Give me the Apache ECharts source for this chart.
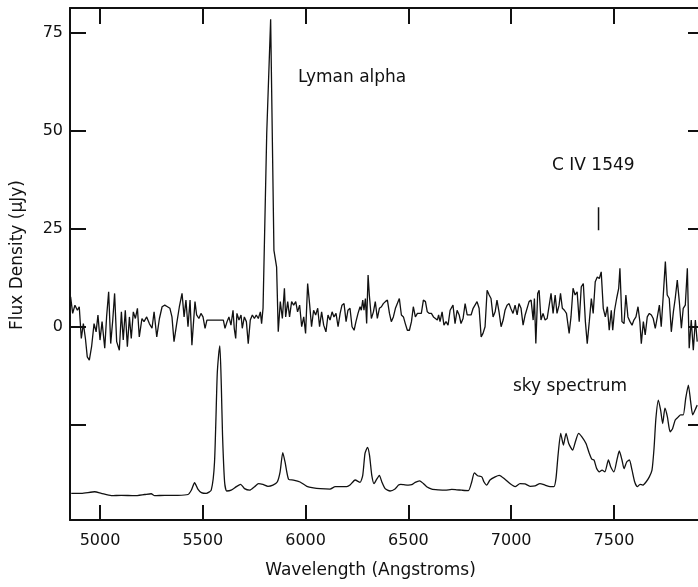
<!DOCTYPE html>
<html>
<head>
<meta charset="utf-8">
<title>Spectrum</title>
<script src="https://cdn.jsdelivr.net/npm/echarts@6/dist/echarts.min.js"></script>
<style>
  html, body { margin: 0; padding: 0; background: #fff; }
  #chart { width: 698px; height: 587px; }
</style>
</head>
<body>
<div id="chart"></div>
<script>
// object spectrum: [wavelength (A), flux density (uJy)]
const objectSpectrum = [
  [4857,7.7],[4867,3.5],[4878,5.6],[4890,4.3],[4899,5.2],[4909,-2.9],[4919,0.9],[4929,-2.9],[4938,-7.6],[4948,-8.4],
  [4959,-5.0],[4971,0.9],[4981,-1.2],[4990,3.1],[5000,-3.3],[5010,1.4],[5023,-5.4],[5032,2.6],[5042,9.0],[5052,-4.2],
  [5062,1.8],[5071,8.6],[5081,-3.7],[5094,-5.9],[5104,3.9],[5113,-3.3],[5123,4.3],[5133,-5.0],[5143,2.6],[5152,-2.9],
  [5162,3.9],[5172,2.2],[5182,4.8],[5191,-2.5],[5204,2.2],[5214,1.4],[5227,2.6],[5240,0.9],[5253,-0.3],[5263,3.9],
  [5276,-2.5],[5289,2.2],[5302,5.2],[5315,5.6],[5328,5.2],[5340,4.8],[5350,2.6],[5360,-3.7],[5373,0.9],[5386,5.2],
  [5399,8.6],[5409,2.6],[5418,6.9],[5428,0.1],[5438,6.9],[5447,-4.6],[5462,6.5],[5470,3.1],[5481,2.2],[5491,3.5],
  [5501,2.6],[5511,-0.3],[5520,1.8],[5600,1.8],[5608,-0.3],[5618,1.4],[5627,2.6],[5637,0.5],[5647,4.3],[5653,-0.3],
  [5660,-2.9],[5666,3.5],[5676,1.8],[5686,3.1],[5692,-0.3],[5702,2.6],[5712,1.4],[5721,-4.2],[5731,1.8],[5741,3.1],
  [5751,2.2],[5760,3.1],[5770,2.2],[5780,3.9],[5786,0.9],[5793,4.8],[5811,49.5],[5830,78.5],[5846,19.6],[5859,15.3],
  [5867,-1.2],[5877,6.5],[5887,2.2],[5897,9.9],[5903,2.6],[5913,6.5],[5922,2.6],[5932,6.5],[5942,5.6],[5952,6.5],
  [5961,3.9],[5971,5.6],[5981,0.1],[5991,2.6],[6000,-1.6],[6010,11.1],[6020,5.6],[6029,0.1],[6039,4.3],[6049,3.1],
  [6059,4.8],[6068,0.1],[6078,3.9],[6088,0.5],[6099,-1.2],[6109,3.1],[6119,1.8],[6129,3.9],[6138,2.6],[6148,3.5],
  [6158,0.1],[6168,3.5],[6177,5.6],[6187,6.0],[6197,1.4],[6206,4.3],[6216,4.8],[6226,0.1],[6236,-0.8],[6245,1.4],
  [6255,3.5],[6265,5.2],[6271,4.3],[6278,6.9],[6284,4.3],[6291,7.3],[6297,0.9],[6304,13.3],[6310,8.2],[6320,2.2],
  [6330,3.9],[6339,6.5],[6349,2.2],[6359,4.8],[6369,5.2],[6378,6.0],[6388,6.5],[6398,6.9],[6408,3.5],[6417,1.4],
  [6427,2.6],[6437,4.8],[6446,4.8],[6456,7.3],[6466,3.1],[6476,2.6],[6485,0.9],[6495,-0.8],[6505,-0.8],[6515,1.4],
  [6524,5.2],[6534,2.6],[6544,3.5],[6553,3.1],[6563,3.5],[6573,6.9],[6583,6.5],[6592,3.9],[6602,3.5],[6612,3.5],
  [6622,2.6],[6631,3.1],[6641,1.8],[6647,3.1],[6654,1.4],[6664,3.9],[6673,0.5],[6683,1.4],[6693,0.5],[6703,4.3],
  [6717,5.6],[6727,0.9],[6737,4.3],[6747,3.1],[6756,0.9],[6766,2.2],[6776,6.0],[6786,3.1],[6795,3.1],[6805,3.1],
  [6815,4.8],[6824,5.6],[6834,6.5],[6844,4.8],[6854,-2.5],[6863,-1.6],[6873,0.1],[6883,9.4],[6893,8.2],[6902,7.3],
  [6912,2.6],[6922,3.9],[6931,6.9],[6941,3.9],[6951,0.1],[6961,1.8],[6970,4.3],[6980,5.6],[6990,6.0],[6998,4.8],
  [7009,3.5],[7019,5.6],[7029,3.1],[7038,6.0],[7048,4.8],[7058,0.5],[7068,3.1],[7077,3.5],[7087,6.5],[7097,6.9],
  [7107,1.8],[7113,7.3],[7120,-4.2],[7129,8.6],[7136,9.4],[7145,1.8],[7155,3.5],[7165,1.8],[7175,2.2],[7184,1.8],
  [7194,8.6],[7204,3.5],[7214,8.2],[7223,3.5],[7233,5.6],[7240,8.6],[7249,4.8],[7259,4.3],[7269,3.5],[7282,-1.6],
  [7291,2.6],[7301,9.9],[7311,8.2],[7321,9.0],[7331,1.4],[7341,10.3],[7351,11.1],[7361,1.4],[7370,-4.2],[7380,1.4],
  [7390,7.3],[7399,3.5],[7409,11.6],[7419,12.8],[7429,12.4],[7438,14.1],[7448,4.8],[7458,2.6],[7468,5.2],[7477,-0.8],
  [7487,4.3],[7494,-0.8],[7503,4.3],[7513,7.3],[7523,9.9],[7529,15.0],[7539,1.4],[7549,0.9],[7558,8.2],[7568,2.6],
  [7578,1.4],[7588,0.5],[7597,1.8],[7607,2.6],[7617,5.2],[7626,1.4],[7633,-4.2],[7643,1.4],[7652,-2.0],[7662,2.6],
  [7672,3.5],[7682,3.1],[7691,2.2],[7701,-0.3],[7711,2.6],[7721,5.6],[7730,0.1],[7740,8.2],[7750,16.7],[7759,8.2],
  [7769,7.3],[7779,-1.2],[7789,3.9],[7798,7.3],[7808,12.0],[7818,6.5],[7828,-0.3],[7837,4.8],[7847,5.6],[7857,15.0],
  [7866,-5.4],[7876,1.8],[7886,-5.9],[7896,1.8],[7905,-3.7]
];

// sky spectrum, drawn offset below the object (same units)
const skySpectrum = [
  [4860,-42.4],[4909,-42.4],[4974,-42.0],[5006,-42.4],[5055,-43.0],[5103,-42.9],[5168,-43.0],[5217,-42.7],[5249,-42.5],
  [5266,-43.0],[5314,-42.9],[5379,-42.9],[5428,-42.7],[5444,-41.6],[5460,-39.7],[5476,-41.3],[5493,-42.2],[5517,-42.4],
  [5541,-41.6],[5557,-34.4],[5570,-12.2],[5577,-7.1],[5583,-4.8],[5590,-14.8],[5596,-27.6],[5606,-39.5],[5616,-41.8],
  [5638,-41.6],[5663,-40.7],[5684,-40.1],[5703,-41.2],[5728,-41.6],[5752,-40.7],[5771,-39.9],[5792,-40.1],[5817,-40.6],
  [5841,-40.3],[5862,-39.5],[5876,-36.9],[5889,-32.0],[5900,-34.4],[5917,-38.8],[5941,-39.0],[5973,-39.5],[6006,-40.6],
  [6038,-41.0],[6071,-41.2],[6119,-41.3],[6144,-40.7],[6168,-40.7],[6200,-40.7],[6216,-40.3],[6241,-39.0],[6265,-39.6],
  [6278,-37.8],[6289,-32.2],[6301,-30.7],[6311,-32.7],[6322,-37.8],[6333,-39.9],[6346,-38.8],[6359,-37.8],[6371,-39.5],
  [6387,-41.2],[6411,-41.8],[6435,-41.3],[6452,-40.3],[6463,-40.1],[6479,-40.2],[6500,-40.3],[6516,-40.2],[6533,-39.6],
  [6554,-39.2],[6573,-39.9],[6589,-40.7],[6614,-41.3],[6646,-41.5],[6679,-41.6],[6711,-41.4],[6735,-41.5],[6760,-41.6],
  [6792,-41.7],[6808,-39.5],[6821,-37.2],[6837,-37.9],[6857,-38.2],[6868,-39.5],[6881,-40.3],[6897,-39.0],[6922,-38.2],
  [6942,-37.8],[6970,-38.8],[6994,-39.9],[7019,-40.7],[7043,-39.9],[7067,-40.0],[7092,-40.6],[7116,-40.5],[7140,-39.9],
  [7165,-40.3],[7189,-40.7],[7208,-40.7],[7218,-38.6],[7228,-32.7],[7241,-27.1],[7254,-30.1],[7267,-27.1],[7280,-29.7],
  [7299,-31.4],[7312,-29.3],[7328,-27.1],[7344,-28.0],[7364,-29.7],[7380,-32.2],[7392,-33.7],[7403,-33.9],[7416,-36.1],
  [7429,-36.9],[7442,-36.5],[7456,-36.9],[7473,-33.9],[7484,-35.6],[7500,-36.9],[7516,-33.5],[7526,-31.6],[7539,-33.9],
  [7549,-36.1],[7562,-34.4],[7575,-33.9],[7588,-36.5],[7601,-39.5],[7614,-40.7],[7627,-40.1],[7640,-40.3],[7656,-39.5],
  [7672,-38.2],[7685,-36.5],[7695,-30.9],[7704,-23.3],[7716,-18.6],[7727,-21.2],[7737,-24.6],[7748,-20.7],[7760,-22.9],
  [7773,-26.7],[7785,-25.9],[7798,-23.7],[7813,-22.9],[7824,-22.4],[7837,-22.4],[7849,-18.2],[7862,-14.8],[7873,-19.0],
  [7883,-22.4],[7894,-21.2],[7905,-19.9]
];

// short marker under the C IV label
const civMarker = [[7425, 24.7], [7425, 30.6]];

const xTicks = [5000, 5500, 6000, 6500, 7000, 7500];
const yTicks = [-25, 0, 25, 50, 75];
const yLabels = [0, 25, 50, 75];

const ink = '#111';
const font = 'DejaVu Sans';

// boxed frame: every axis keeps to the grid edge, ticks point inward
const frameAxis = (extra) => Object.assign({
  type: 'value',
  axisLine: { show: true, onZero: false, lineStyle: { color: ink, width: 2 } },
  splitLine: { show: false }
}, extra);

const tickStyle = (values, len) => ({
  show: true, inside: true, length: len, customValues: values,
  lineStyle: { color: ink, width: 2 }
});

const chart = echarts.init(document.getElementById('chart'), null, { renderer: 'canvas' });

chart.setOption({
  backgroundColor: '#fff',
  animation: false,
  // right frame sits just past the window edge, as in the scan
  grid: { left: 70, top: 8, width: 634, height: 512, outerBoundsMode: 'none' },
  xAxis: [
    frameAxis({
      position: 'bottom', min: 4854, max: 7938,
      axisTick: tickStyle(xTicks, 15),
      axisLabel: {
        customValues: xTicks, color: ink, fontFamily: font, fontSize: 16, margin: 13,
        formatter: (v) => String(v)
      },
      name: 'Wavelength (Angstroms)', nameLocation: 'middle', nameGap: 42,
      nameTextStyle: { color: ink, fontFamily: font, fontSize: 17, padding: [0, 33, 0, 0] }
    }),
    frameAxis({
      position: 'top', min: 4854, max: 7938,
      axisTick: tickStyle(xTicks, 16),
      axisLabel: { show: false }
    })
  ],
  yAxis: [
    frameAxis({
      position: 'left', min: -49.2, max: 81.4,
      axisTick: tickStyle(yTicks, 16),
      axisLabel: { customValues: yLabels, color: ink, fontFamily: font, fontSize: 16, margin: 7 },
      name: 'Flux Density (μJy)', nameLocation: 'middle', nameGap: 44,
      nameTextStyle: { color: ink, fontFamily: font, fontSize: 17, padding: [0, 0, 0, 18] }
    }),
    frameAxis({
      position: 'right', min: -49.2, max: 81.4,
      axisTick: tickStyle(yTicks, 16),
      axisLabel: { show: false }
    })
  ],
  graphic: [
    { type: 'text', left: 298, top: 69, style: { text: 'Lyman alpha', fill: ink, font: '17px "DejaVu Sans"' } },
    { type: 'text', left: 552, top: 157, style: { text: 'C IV 1549', fill: ink, font: '17px "DejaVu Sans"' } },
    { type: 'text', left: 513, top: 378, style: { text: 'sky spectrum', fill: ink, font: '17px "DejaVu Sans"' } }
  ],
  series: [
    {
      name: 'object', type: 'line', data: objectSpectrum, showSymbol: false,
      lineStyle: { color: ink, width: 1.3 }
    },
    {
      name: 'sky', type: 'line', data: skySpectrum, showSymbol: false, smooth: 0.2,
      lineStyle: { color: ink, width: 1.3 }
    },
    {
      name: 'C IV', type: 'line', data: civMarker, showSymbol: false,
      lineStyle: { color: ink, width: 1.5 }
    }
  ]
});
</script>
</body>
</html>
